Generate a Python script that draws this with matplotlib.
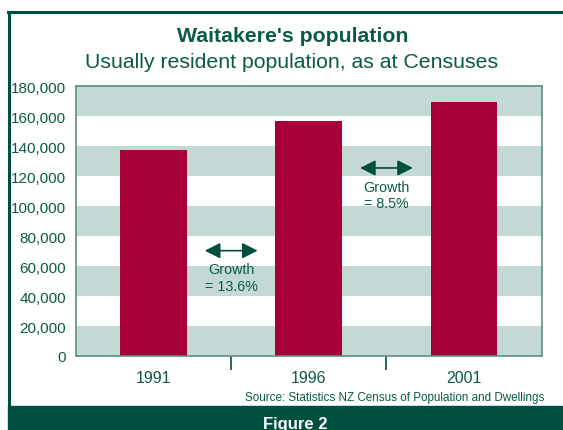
import matplotlib
matplotlib.use("Agg")
import matplotlib.pyplot as plt
from matplotlib.patches import Rectangle
from matplotlib.lines import Line2D

# data
years = ['1991', '1996', '2001']
population = [137500, 156800, 169800]
growth_labels = ['Growth\n= 13.6%', 'Growth\n= 8.5%']
growth_y = [70300, 125500]
y_ticks = list(range(0, 180001, 20000))

dark_green = '#004f40'
text_green = '#0b5a48'
bar_red = '#a80036'
band = '#c4d8d6'
spine_col = '#5a8f84'

plt.rcParams['font.family'] = ['Liberation Sans', 'DejaVu Sans']

fig = plt.figure(figsize=(5.63, 4.31), dpi=100)
W, H = 563, 431

# frame: top and left border lines, dark footer band
fig.add_artist(Line2D([8 / W, 1], [1 - 13 / H, 1 - 13 / H], color=dark_green, lw=2.2, transform=fig.transFigure))
fig.add_artist(Line2D([9 / W, 9 / W], [1 - 13 / H, 24 / H], color=dark_green, lw=2.2, transform=fig.transFigure))
fig.add_artist(Rectangle((8 / W, 0), 1, 24 / H, color=dark_green, transform=fig.transFigure, zorder=0))

fig.text(293 / W, 1 - 36 / H, "Waitakere's population", ha='center', va='center',
         fontsize=15.3, fontweight='bold', color=text_green)
fig.text(292 / W, 1 - 63 / H, 'Usually resident population, as at Censuses', ha='center', va='center',
         fontsize=15.3, color=text_green)
fig.text(544 / W, 1 - 398 / H, 'Source: Statistics NZ Census of Population and Dwellings', ha='right', va='center',
         fontsize=8.4, color=text_green)
fig.text(295 / W, 1 - 425 / H, 'Figure 2', ha='center', va='center',
         fontsize=12, fontweight='bold', color='white')

ax = fig.add_axes([76 / W, 1 - 357 / H, (541.7 - 76) / W, (357 - 87.3) / H])

# alternating horizontal bands
for i in range(0, len(y_ticks) - 1, 2):
    ax.axhspan(y_ticks[i], y_ticks[i + 1], color=band, lw=0, zorder=0)

x = list(range(len(years)))
ax.bar(x, population, width=0.43, color=bar_red, zorder=2)

ax.set_xlim(-0.5, 2.5)
ax.set_ylim(0, 180000)
ax.set_yticks(y_ticks)
ax.set_yticklabels([f'{v:,}' for v in y_ticks])
ax.set_xticks(x)
ax.set_xticklabels(years)
ax.set_xticks([0.5, 1.5], minor=True)
ax.tick_params(axis='x', which='major', length=0, pad=10, labelsize=11.5, labelcolor=text_green)
ax.tick_params(axis='x', which='minor', length=10, width=1.2, color=dark_green, direction='out')
ax.tick_params(axis='y', length=0, pad=7, labelsize=11, labelcolor=text_green)
for s in ax.spines.values():
    s.set_color(spine_col)
    s.set_linewidth(1.2)

# growth arrows between bars
for i, (lab, gy) in enumerate(zip(growth_labels, growth_y)):
    ax.annotate('', xy=(i + 0.33, gy), xytext=(i + 0.67, gy),
                arrowprops=dict(arrowstyle='<|-|>,head_length=0.55,head_width=0.28', color=dark_green,
                                lw=1.2, mutation_scale=17, shrinkA=0, shrinkB=0))
    ax.text(i + 0.5, gy - 18000, lab, ha='center', va='center', fontsize=10.3,
            color=text_green, linespacing=1.25, zorder=3)

fig.savefig('out.png', dpi=100)
